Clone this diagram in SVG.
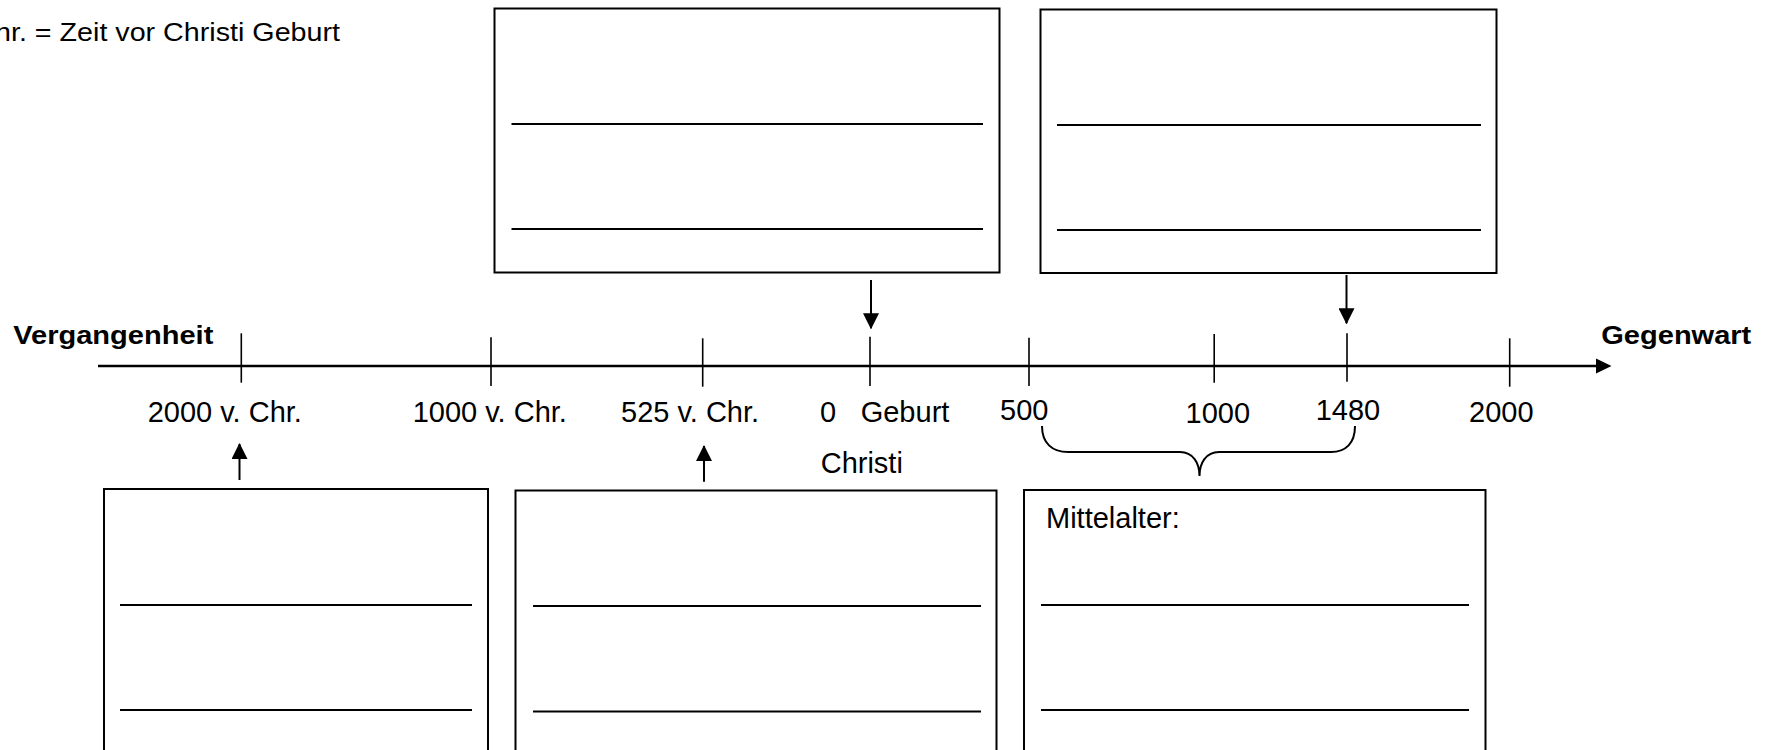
<svg xmlns="http://www.w3.org/2000/svg" width="1768" height="750" viewBox="0 0 1768 750">
  <style>
    .box { fill: #ffffff; stroke: #000000; stroke-width: 2; }
    .rule { stroke: #000000; stroke-width: 2.2; }
    .axis { stroke: #000000; stroke-width: 2.5; fill: none; }
    .tick { stroke: #000000; stroke-width: 1.6; }
    .conn { stroke: #000000; stroke-width: 2; fill: none; }
    .label { font-family: "Liberation Sans", Arial, sans-serif; font-size: 29px; fill: #000000; }
    .bold { font-family: "Liberation Sans", Arial, sans-serif; font-size: 26px; font-weight: bold; fill: #000000; }
    .note { font-family: "Liberation Sans", Arial, sans-serif; font-size: 25px; fill: #000000; }
  </style>
  <defs>
    <marker id="head" viewBox="0 0 16 16" refX="15" refY="8" markerWidth="16" markerHeight="16" markerUnits="userSpaceOnUse" orient="auto">
      <path d="M0,0 L16,8 L0,16 Z" fill="#000000"/>
    </marker>
  </defs>

  <rect x="0" y="0" width="1768" height="750" fill="#ffffff"/>

  <!-- legend line at the top left -->
  <text class="note" x="-5" y="40.5" textLength="345" lengthAdjust="spacingAndGlyphs">hr. = Zeit vor Christi Geburt</text>

  <!-- timeline axis with ticks and year labels -->
  <g id="timeline">
    <line class="axis" x1="98" y1="366" x2="1597" y2="366"/>
    <path d="M1596,358.5 L1611.5,366 L1596,373.5 Z" fill="#000000"/>
    <line class="tick" x1="241.3" y1="333.3" x2="241.3" y2="382.7"/>
    <line class="tick" x1="491" y1="337.3" x2="491" y2="386"/>
    <line class="tick" x1="702.7" y1="338.3" x2="702.7" y2="386.7"/>
    <line class="tick" x1="870" y1="336.7" x2="870" y2="386"/>
    <line class="tick" x1="1029" y1="337.7" x2="1029" y2="386"/>
    <line class="tick" x1="1214.2" y1="334" x2="1214.2" y2="382.7"/>
    <line class="tick" x1="1347" y1="333.3" x2="1347" y2="381.7"/>
    <line class="tick" x1="1509.7" y1="338.3" x2="1509.7" y2="386.7"/>

    <text class="bold" x="13.3" y="344" textLength="200" lengthAdjust="spacingAndGlyphs">Vergangenheit</text>
    <text class="bold" x="1601.3" y="344" textLength="150" lengthAdjust="spacingAndGlyphs">Gegenwart</text>

    <text class="label" x="147.7" y="422.3">2000 v. Chr.</text>
    <text class="label" x="412.7" y="422.3">1000 v. Chr.</text>
    <text class="label" x="621" y="421.7">525 v. Chr.</text>
    <text class="label" x="820" y="421.7">0</text>
    <text class="label" x="860.7" y="421.7">Geburt</text>
    <text class="label" x="820.7" y="472.7">Christi</text>
    <text class="label" x="1000" y="420">500</text>
    <text class="label" x="1185.5" y="423.3">1000</text>
    <text class="label" x="1315.7" y="420">1480</text>
    <text class="label" x="1469" y="422.3">2000</text>
  </g>

  <!-- answer boxes above the axis -->
  <g id="box-birth">
    <rect class="box" x="494.5" y="8.5" width="505" height="264"/>
    <line class="rule" x1="511.5" y1="124" x2="983" y2="124"/>
    <line class="rule" x1="511.5" y1="229" x2="983" y2="229"/>
  </g>
  <g id="box-1480">
    <rect class="box" x="1040.5" y="9.5" width="456" height="263.5"/>
    <line class="rule" x1="1057" y1="125" x2="1481" y2="125"/>
    <line class="rule" x1="1057" y1="230" x2="1481" y2="230"/>
  </g>

  <!-- answer boxes below the axis -->
  <g id="box-2000bc">
    <rect class="box" x="104" y="489" width="384" height="300"/>
    <line class="rule" x1="120" y1="605" x2="472" y2="605"/>
    <line class="rule" x1="120" y1="710" x2="472" y2="710"/>
  </g>
  <g id="box-525bc">
    <rect class="box" x="515.5" y="490.5" width="481" height="300"/>
    <line class="rule" x1="533" y1="606" x2="981" y2="606"/>
    <line class="rule" x1="533" y1="711.5" x2="981" y2="711.5"/>
  </g>
  <g id="box-mittelalter">
    <rect class="box" x="1024" y="490" width="461.5" height="300"/>
    <text class="label" x="1046" y="528.3">Mittelalter:</text>
    <line class="rule" x1="1041" y1="605" x2="1469" y2="605"/>
    <line class="rule" x1="1041" y1="710" x2="1469" y2="710"/>
  </g>

  <!-- connectors: pointer arrows and the period brace -->
  <g id="connectors">
    <line class="conn" x1="871" y1="280" x2="871" y2="328.3" marker-end="url(#head)"/>
    <line class="conn" x1="1346.5" y1="275" x2="1346.5" y2="323.3" marker-end="url(#head)"/>
    <line class="conn" x1="239.5" y1="480" x2="239.5" y2="444" marker-end="url(#head)"/>
    <line class="conn" x1="704" y1="481.7" x2="704" y2="446" marker-end="url(#head)"/>
    <path class="conn" stroke-width="1.8" d="M1042,426 C1042,443 1052,452 1068,452 L1180,452 C1193,452 1199.5,463 1199.5,476 C1199.5,463 1206,452 1219,452 L1331,452 C1346,452 1355,443 1355,426"/>
  </g>
</svg>
